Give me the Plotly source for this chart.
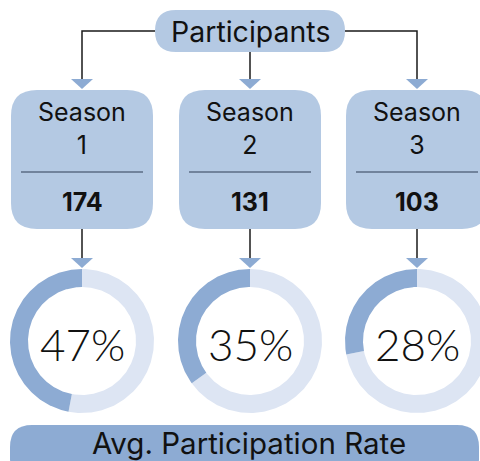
import numpy as np
import plotly.graph_objects as go

seasons = ["Season<br>1", "Season<br>2", "Season<br>3"]
participants = [174, 131, 103]
rates = [47, 35, 28]
top_label = "Participants"
bottom_label = "Avg. Participation Rate"

W, H = 480, 461
FONT = "Inter"
BOX = "#B4C9E3"
DARK = "#8DABD3"
LIGHT = "#DDE5F3"
LINE = "#1a1a1a"

centers = [82, 250, 417]
DCY, R_OUT, R_IN = 341, 72, 54

def rrect(x0, y0, x1, y1, r):
    return (f"M{x0+r},{y0} L{x1-r},{y0} Q{x1},{y0} {x1},{y0+r} L{x1},{y1-r} "
            f"Q{x1},{y1} {x1-r},{y1} L{x0+r},{y1} Q{x0},{y1} {x0},{y1-r} "
            f"L{x0},{y0+r} Q{x0},{y0} {x0+r},{y0} Z")

def tri(cx, ytop, ybot, hw):
    return f"M{cx-hw},{ytop} L{cx+hw},{ytop} L{cx},{ybot} Z"

def arc_poly(cx, cy, a0, a1):
    t = np.radians(np.linspace(a0, a1, 200))
    xo = cx + R_OUT * np.cos(t)
    yo = cy - R_OUT * np.sin(t)
    xi = cx + R_IN * np.cos(t[::-1])
    yi = cy - R_IN * np.sin(t[::-1])
    return np.concatenate([xo, xi, xo[:1]]), np.concatenate([yo, yi, yo[:1]])

shapes = []
annotations = []
fig = go.Figure()

# top pill
shapes.append(dict(type="path", path=rrect(155, 10, 345, 52, 21), fillcolor=BOX, line_width=0, layer="below"))
annotations.append(dict(x=250, y=31, text=top_label, showarrow=False, font=dict(family=FONT, size=28.5, color="#111")))

# connectors from pill
shapes.append(dict(type="path", path=f"M155,31 L{centers[0]},31 L{centers[0]},80", line=dict(color=LINE, width=1.5)))
shapes.append(dict(type="path", path=f"M{centers[1]},52 L{centers[1]},80", line=dict(color=LINE, width=1.5)))
shapes.append(dict(type="path", path=f"M345,31 L{centers[2]},31 L{centers[2]},80", line=dict(color=LINE, width=1.5)))

for i, (s, p, r) in enumerate(zip(seasons, participants, rates)):
    cx = centers[i]
    shapes.append(dict(type="path", path=tri(cx, 79, 89, 11), fillcolor=DARK, line_width=0))
    shapes.append(dict(type="path", path=rrect(cx - 71, 90, cx + 71, 229, 26), fillcolor=BOX, line_width=0, layer="below"))
    shapes.append(dict(type="line", x0=cx - 61, x1=cx + 61, y0=172, y1=172, line=dict(color="#5B6B85", width=1.5)))
    annotations.append(dict(x=cx, y=128, text=s, showarrow=False, font=dict(family=FONT, size=25, color="#111")))
    annotations.append(dict(x=cx, y=202, text=f"<b>{p}</b>", showarrow=False, font=dict(family=FONT, size=25, color="#111")))
    shapes.append(dict(type="line", x0=cx, x1=cx, y0=229, y1=259, line=dict(color=LINE, width=1.5)))
    shapes.append(dict(type="path", path=tri(cx, 258, 268, 11), fillcolor=DARK, line_width=0))
    a_end = 90 + 3.6 * r
    xs, ys = arc_poly(cx, DCY, a_end, 450)
    fig.add_trace(go.Scatter(x=xs, y=ys, fill="toself", fillcolor=LIGHT, mode="lines", line=dict(width=0, color=LIGHT),
                             hoverinfo="skip", showlegend=False))
    xs, ys = arc_poly(cx, DCY, 90, a_end)
    fig.add_trace(go.Scatter(x=xs, y=ys, fill="toself", fillcolor=DARK, mode="lines", line=dict(width=0, color=DARK),
                             hoverinfo="skip", showlegend=False))
    annotations.append(dict(x=cx, y=344, text=f"{r}%", showarrow=False, font=dict(family="Lato", size=44, color="#111", weight=300)))

# bottom bar
shapes.append(dict(type="path", path=rrect(10, 425, 479, 480, 22), fillcolor=DARK, line_width=0, layer="below"))
annotations.append(dict(x=249, y=443, text=bottom_label, showarrow=False, font=dict(family=FONT, size=29.5, color="#111")))

fig.update_layout(
    width=W, height=H, margin=dict(l=0, r=0, t=0, b=0),
    paper_bgcolor="white", plot_bgcolor="white",
    xaxis=dict(range=[0, W], visible=False, fixedrange=True),
    yaxis=dict(range=[H, 0], visible=False, fixedrange=True),
    shapes=shapes, annotations=annotations,
)
fig.write_html("out.html", config={"displayModeBar": False},
               post_script="document.body.style.margin='0';document.body.style.overflow='hidden';")
